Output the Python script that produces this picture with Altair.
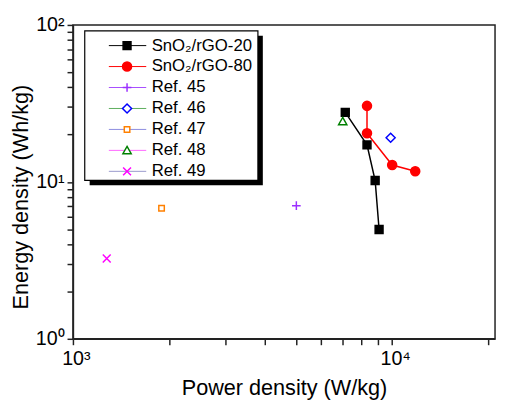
import altair as alt
import pandas as pd

# ---- data ----
series_names = ["SnO₂/rGO-20", "SnO₂/rGO-80", "Ref. 45", "Ref. 46", "Ref. 47", "Ref. 48", "Ref. 49"]

power_20 = [7130, 8340, 8845, 9100]
energy_20 = [27.7, 17.2, 10.2, 4.97]

power_80 = [8340, 8340, 10000, 11810]
energy_80 = [30.5, 20.4, 12.8, 11.7]

ref_power = [5010, 9890, 1895, 7000, 1276]
ref_energy = [7.05, 19.1, 6.79, 24.3, 3.25]

x_tick_values = [1000, 2000, 3000, 4000, 5000, 6000, 7000, 8000, 9000, 10000, 20000]
y_tick_values = [1, 2, 3, 4, 5, 6, 7, 8, 9, 10, 20, 30, 40, 50, 60, 70, 80, 90, 100]

# ---- styles ----
symbol_colors = ["#000000", "#ff0000", "#9b30ff", "#0000ff", "#ff8000", "#008000", "#ff00ff"]
symbol_fills = ["#000000", "#ff0000", "transparent", "#ffffff", "#ffffff", "#ffffff", "transparent"]
legend_line_colors = ["#000000", "#ff0000", "#a64dff", "#5cad5c", "#8c8cdf", "#ff66ff", "#9999cc"]
symbol_paths = [
    "M-1,-1H1V1H-1Z",
    "M-1.15,0A1.15,1.15,0,1,0,1.15,0A1.15,1.15,0,1,0,-1.15,0Z",
    "M-1.1,0H1.1M0,-1.1V1.1",
    "M0,-1.15L1.15,0L0,1.15L-1.15,0Z",
    "M-0.7,-0.7H0.7V0.7H-0.7Z",
    "M0,-1L1.05,0.85H-1.05Z",
    "M-1,-1L1,1M1,-1L-1,1",
]

rows = []
for i, (p, e) in enumerate(zip(power_20, energy_20)):
    rows.append({"series": series_names[0], "power": p, "energy": e, "idx": i})
for i, (p, e) in enumerate(zip(power_80, energy_80)):
    rows.append({"series": series_names[1], "power": p, "energy": e, "idx": i})
for name, p, e in zip(series_names[2:], ref_power, ref_energy):
    rows.append({"series": name, "power": p, "energy": e, "idx": 0})
df = pd.DataFrame(rows)
line_df = df[df["series"].isin(series_names[:2])]

FONT = "Liberation Sans"
AX = "#222222"

x_scale = alt.Scale(type="log", domain=[1000, 21000], nice=False)
y_scale = alt.Scale(type="log", domain=[1, 100], nice=False)

x_axis = alt.Axis(
    values=x_tick_values, tickCount=len(x_tick_values),
    labelExpr="datum.value == 1000 ? '10³' : datum.value == 10000 ? '10⁴' : ''",
    title="Power density (W/kg)",
    titleFont=FONT, titleFontSize=22, titleFontWeight="normal", titleColor="black",
    titleY=57, titleBaseline="alphabetic",
    labelFont=FONT, labelFontSize=20, labelColor="black", labelPadding=4,
    labelOffset=3, labelFlush=False, labelOverlap=False,
    tickSize=6, tickColor=AX, tickWidth=1.5, tickOpacity=1,
    domainColor=AX, domainWidth=1.5, grid=False,
)
y_axis = alt.Axis(
    values=y_tick_values, tickCount=len(y_tick_values),
    labelExpr="datum.value == 1 ? '10⁰' : datum.value == 10 ? '10¹' : datum.value == 100 ? '10²' : ''",
    title="Energy density (Wh/kg)",
    titleFont=FONT, titleFontSize=22, titleFontWeight="normal", titleColor="black",
    titleX=-46, titleY=174.5, titleAngle=270, titleBaseline="alphabetic", titleAlign="center",
    labelFont=FONT, labelFontSize=20, labelColor="black", labelPadding=3, labelOverlap=False,
    tickSize=6, tickColor=AX, tickWidth=1.5, tickOpacity=1,
    domainColor=AX, domainWidth=1.5, grid=False,
)

X = alt.X("power:Q", scale=x_scale, axis=x_axis)
Y = alt.Y("energy:Q", scale=y_scale, axis=y_axis)

one_row = alt.Data(values=[{"k": 1}])

shadow = alt.Chart(one_row).mark_rect(color="black").encode(
    x=alt.value(17), x2=alt.value(193), y=alt.value(11), y2=alt.value(163)
)
frame = alt.Chart(one_row).mark_rect(fill="white", stroke="black", strokeWidth=1.2).encode(
    x=alt.value(12), x2=alt.value(188), y=alt.value(6), y2=alt.value(158)
)

legend_common = dict(
    orient="none", legendX=12, legendY=12.5, title=None, padding=0,
    symbolSize=64, rowPadding=3.3,
    labelFont=FONT, labelFontSize=17, labelColor="black", labelBaseline="middle",
)

lines = alt.Chart(line_df).mark_line(strokeWidth=1.5).encode(
    x=X, y=Y,
    order=alt.Order("idx:Q"),
    color=alt.Color(
        "series:N",
        scale=alt.Scale(domain=series_names, range=legend_line_colors),
        legend=alt.Legend(
            symbolType="M-4.75,0H4.75", symbolStrokeWidth=1, symbolOffset=35,
            labelOffset=16, zindex=1, **legend_common
        ),
    ),
)

pt_legend = alt.Legend(
    symbolStrokeWidth=1.5, symbolOffset=34.5, labelOffset=16, labelOpacity=0, zindex=2,
    **legend_common
)
points = alt.Chart(df).mark_point(size=64, strokeWidth=1.5, opacity=1).encode(
    x=X, y=Y,
    shape=alt.Shape("series:N", sort=series_names,
                    scale=alt.Scale(domain=series_names, range=symbol_paths), legend=pt_legend),
    stroke=alt.Stroke("series:N", sort=series_names,
                      scale=alt.Scale(domain=series_names, range=symbol_colors), legend=pt_legend),
    fill=alt.Fill("series:N", sort=series_names,
                  scale=alt.Scale(domain=series_names, range=symbol_fills), legend=pt_legend),
)

chart = alt.layer(shadow, frame, lines, points).resolve_scale(
    color="independent"
).properties(
    width=429, height=319,
    autosize=alt.AutoSizeParams(type="none"),
    padding={"left": 66, "top": 14, "right": 2, "bottom": 60},
    background="white",
).configure_view(stroke=AX, strokeWidth=1.5)

chart.save("out.html", embed_options={"renderer": "svg", "actions": False})
